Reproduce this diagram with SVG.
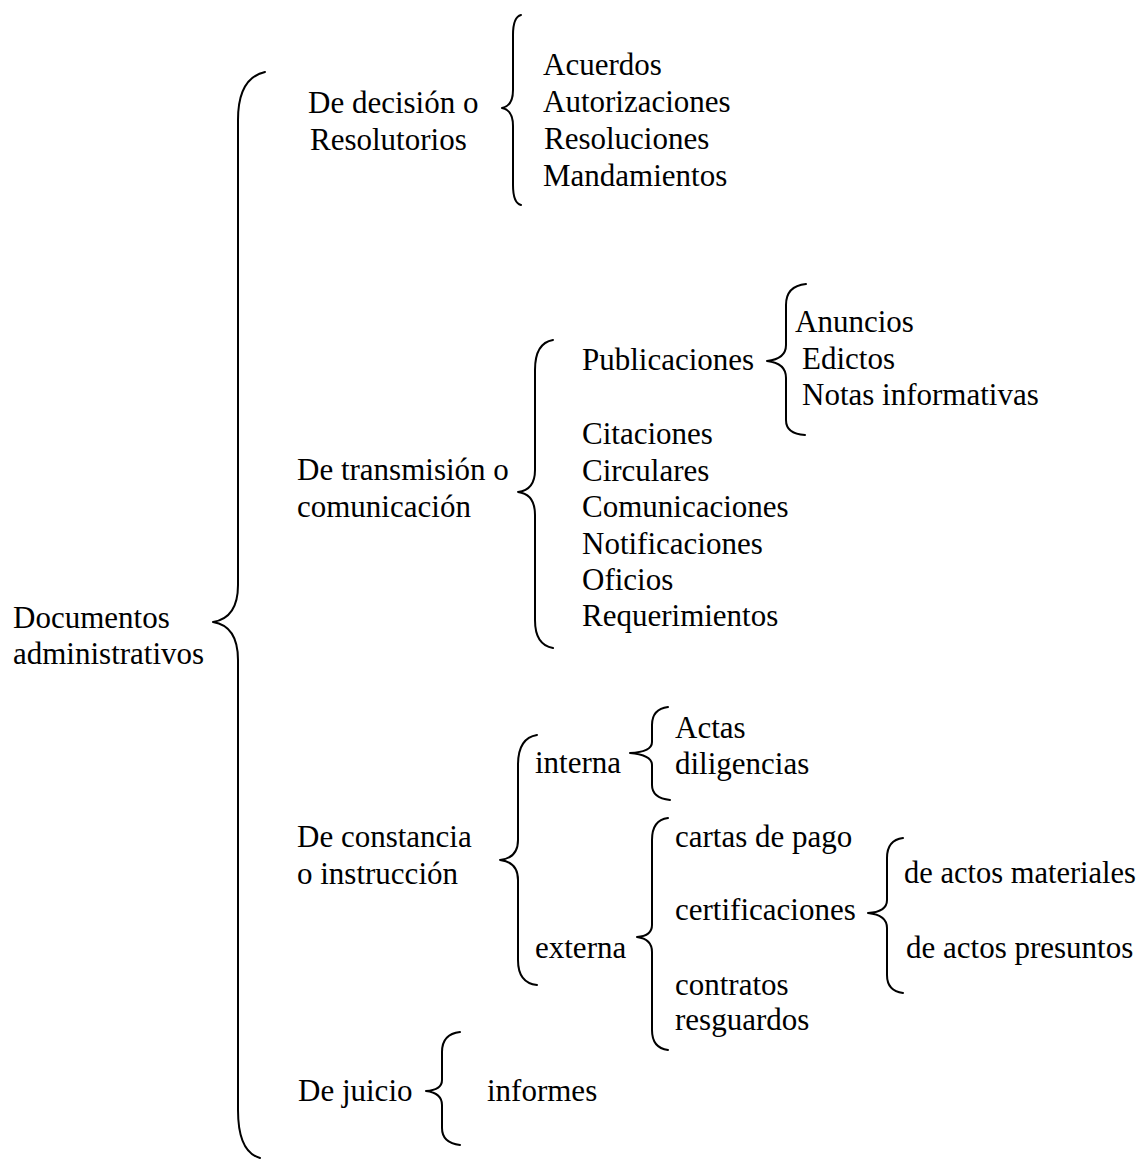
<svg xmlns="http://www.w3.org/2000/svg" width="1141" height="1161" viewBox="0 0 1141 1161">
<style>
text { font-family: "Liberation Serif", "Times New Roman", serif; font-size: 31px; fill: #000; }
.brace { fill: none; stroke: #000; stroke-width: 2; stroke-linecap: round; stroke-linejoin: round; }
</style>
<rect width="1141" height="1161" fill="#fff"/>
<g id="connectors">
<path class="brace" d="M265,72 Q238,78 238,120 L238,585 Q238,618 213,622 Q238,626 238,660 L238,1110 Q238,1152 260,1158"/>
<path class="brace" d="M521,15 Q513,17 513,35 L513,90 Q513,106 502,108 Q513,110 513,126 L513,185 Q513,203 521,205"/>
<path class="brace" d="M553,340 Q535,343 535,370 L535,470 Q535,490 518,492 Q535,494 535,515 L535,620 Q535,645 553,648"/>
<path class="brace" d="M806,284 Q786,286 786,305 L786,345 Q786,359 767,361 Q786,363 786,378 L786,420 Q786,434 805,435"/>
<path class="brace" d="M537,735 Q518,738 518,765 L518,840 Q518,858 500,860 Q518,862 518,880 L518,960 Q518,983 537,985"/>
<path class="brace" d="M668,707 Q652,709 652,725 L652,742 Q652,752 630,753 Q652,755 652,765 L652,785 Q652,798 670,800"/>
<path class="brace" d="M668,818 Q652,820 652,840 L652,925 Q652,936 637,937 Q652,939 652,952 L652,1030 Q652,1048 668,1050"/>
<path class="brace" d="M903,838 Q887,840 887,858 L887,900 Q887,912 868,913 Q887,915 887,928 L887,975 Q887,991 903,993"/>
<path class="brace" d="M460,1032 Q442,1034 442,1052 L442,1080 Q442,1090 426,1091 Q442,1093 442,1105 L442,1128 Q442,1143 460,1145"/>
</g>
<g id="root"><text x="13" y="628">Documentos</text><text x="13" y="664">administrativos</text></g>
<g id="decision"><text x="308" y="113">De decisión o</text><text x="310" y="150">Resolutorios</text></g>
<g id="decision-items">
<text x="543" y="75">Acuerdos</text>
<text x="543" y="112">Autorizaciones</text>
<text x="544" y="149">Resoluciones</text>
<text x="543" y="186">Mandamientos</text>
</g>
<g id="transmision"><text x="297" y="480">De transmisión o</text><text x="297" y="517">comunicación</text></g>
<g id="publicaciones"><text x="582" y="370">Publicaciones</text></g>
<g id="publicaciones-items">
<text x="795" y="332">Anuncios</text>
<text x="802" y="369">Edictos</text>
<text x="802" y="405">Notas informativas</text>
</g>
<g id="transmision-items">
<text x="582" y="444">Citaciones</text>
<text x="582" y="481">Circulares</text>
<text x="582" y="517">Comunicaciones</text>
<text x="582" y="554">Notificaciones</text>
<text x="582" y="590">Oficios</text>
<text x="582" y="626">Requerimientos</text>
</g>
<g id="constancia"><text x="297" y="847">De constancia</text><text x="297" y="884">o instrucción</text></g>
<g id="interna"><text x="535" y="773">interna</text></g>
<g id="interna-items"><text x="675" y="738">Actas</text><text x="675" y="774">diligencias</text></g>
<g id="externa"><text x="535" y="958">externa</text></g>
<g id="cartas"><text x="675" y="847">cartas de pago</text></g>
<g id="certificaciones"><text x="675" y="920">certificaciones</text></g>
<g id="certificaciones-items"><text x="904" y="883" textLength="232" lengthAdjust="spacingAndGlyphs">de actos materiales</text><text x="906" y="958">de actos presuntos</text></g>
<g id="contratos"><text x="675" y="995">contratos</text><text x="675" y="1030">resguardos</text></g>
<g id="juicio"><text x="298" y="1101">De juicio</text></g>
<g id="informes"><text x="487" y="1101">informes</text></g>
</svg>
